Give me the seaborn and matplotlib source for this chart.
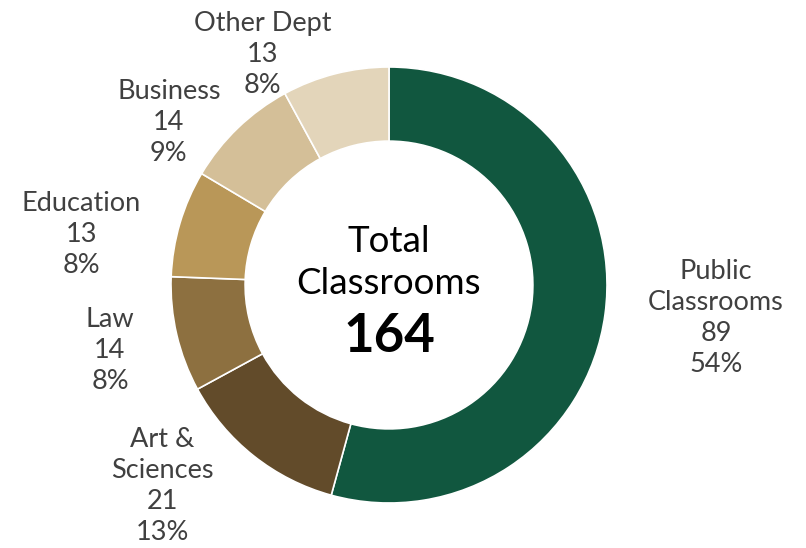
import matplotlib
matplotlib.use("Agg")
import matplotlib.pyplot as plt
import seaborn as sns

# data
departments = ["Public\nClassrooms", "Art &\nSciences", "Law", "Education", "Business", "Other Dept"]
classrooms = [89, 21, 14, 13, 14, 13]
percents = ["54%", "13%", "8%", "8%", "9%", "8%"]
colors = ["#11573F", "#624B2A", "#8D7040", "#B99758", "#D4BF98", "#E3D5BA"]

# label placement (radius units, relative to donut centre)
label_xy = [(1.50, -0.15), (-1.04, -0.92), (-1.28, -0.30), (-1.41, 0.23), (-1.01, 0.745), (-0.58, 1.056)]

sns.set_style("white")
plt.rcParams["font.family"] = ["Lato", "DejaVu Sans"]

fig = plt.figure(figsize=(8.06, 5.48), dpi=100)
ax = fig.add_axes([0, 0, 1, 1])

ax.pie(
    classrooms,
    colors=colors,
    startangle=90,
    counterclock=False,
    radius=1,
    wedgeprops=dict(width=0.34, edgecolor="white", linewidth=1.2),
)

for name, n, pct, (x, y) in zip(departments, classrooms, percents, label_xy):
    ax.text(x, y, f"{name}\n{n}\n{pct}", ha="center", va="center",
            fontsize=19.5, color="#404040", linespacing=1.3)

total = sum(classrooms)
ax.text(0, 0.20, "Total", ha="center", va="center", fontsize=26.5,
        color="black")
ax.text(0, 0.005, "Classrooms", ha="center", va="center", fontsize=26.5,
        color="black")
ax.text(0, -0.235, f"{total}", ha="center", va="center", fontsize=38,
        fontweight="bold", color="black")

ax.set_xlim(-389 / 218, (806 - 389) / 218)
ax.set_ylim(-(548 - 285) / 218, 285 / 218)
ax.set_aspect("auto")
ax.axis("off")

fig.savefig("out.png", dpi=100)
